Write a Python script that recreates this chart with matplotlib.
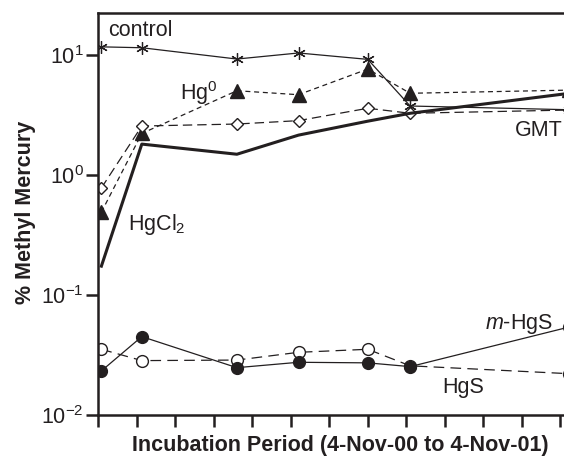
import matplotlib
matplotlib.use("Agg")
import matplotlib.pyplot as plt
import numpy as np

plt.rcParams['font.family'] = ['Liberation Sans', 'DejaVu Sans']
plt.rcParams['mathtext.fontset'] = 'custom'
plt.rcParams['mathtext.rm'] = 'Liberation Sans'
plt.rcParams['mathtext.it'] = 'Liberation Sans:italic'
plt.rcParams['mathtext.bf'] = 'Liberation Sans:bold'

# sampling times, months after 4-Nov-00
months = [0.08, 1.13, 3.6, 5.2, 7.0, 8.1, 12.22]

control = [11.7, 11.5, 9.26, 10.4, 9.2, 3.76, 3.5]
hg0 = [0.49, 2.22, 5.04, 4.67, 7.64, 4.8, 5.1]
gmt = [0.78, 2.56, 2.66, 2.84, 3.6, 3.27, 3.48]
hgcl2 = [0.174, 1.81, 1.49, 2.15, 2.81, 3.27, 4.79]
m_hgs = [0.0233, 0.045, 0.0248, 0.0275, 0.0272, 0.0253, 0.054]
hgs = [0.0353, 0.0284, 0.0287, 0.0333, 0.0353, 0.0257, 0.0221]

ink = '#231f20'

fig = plt.figure(figsize=(5.64, 4.61), dpi=100)
# axes runs past the right edge of the figure (the original is cropped)
ax = fig.add_axes([98.3 / 564, 46 / 461, 500.5 / 564, 402 / 461])
ax.set_yscale('log')
ax.set_xlim(0, 13)
ax.set_ylim(0.01, 22.4)

ax.plot(months, control, color=ink, lw=0.9, marker=(6, 2, 0), ms=9,
        mew=0.9, mec=ink)
ax.plot(months, hg0, color=ink, lw=0.9, ls=(0, (4, 3)), marker='^', ms=9.5,
        mfc=ink, mec=ink)
ax.plot(months, gmt, color=ink, lw=0.9, ls=(0, (7.5, 4)), marker='D', ms=6.5,
        mfc='white', mec=ink, mew=1.0)
ax.plot(months, hgcl2, color=ink, lw=2.2)
ax.plot(months, hgs, color=ink, lw=0.9, ls=(0, (8.5, 5)), marker='o', ms=8.5,
        mfc='white', mec=ink, mew=1.0)
ax.plot(months, m_hgs, color=ink, lw=0.9, marker='o', ms=8.5,
        mfc=ink, mec=ink)

# curve labels
lab = dict(fontsize=15.5, color=ink, va='baseline', ha='left')
ax.text(0.25, 14.4, 'control', **lab)
ax.text(2.12, 4.22, r'Hg$^0$', **lab)
ax.text(0.77, 0.348, r'HgCl$_2$', **lab)
ax.text(10.82, 2.11, 'GMT', **lab)
ax.text(10.04, 0.0521, r'$m$-HgS', **lab)
ax.text(8.93, 0.01534, 'HgS', **lab)

# axes styling
for side in ['left', 'bottom', 'top', 'right']:
    ax.spines[side].set_linewidth(1.8)
    ax.spines[side].set_color(ink)

ax.set_xticks(np.arange(0, 13))
ax.set_xticklabels([])
ax.set_yticks([0.01, 0.1, 1, 10])
ax.set_yticklabels([r'10$^{-2}$', r'10$^{-1}$', r'10$^{0}$', r'10$^{1}$'])
ax.yaxis.set_minor_locator(matplotlib.ticker.NullLocator())
ax.tick_params(axis='both', which='major', direction='out', length=8.5,
               width=1.8, color=ink, labelsize=15.5, labelcolor=ink, pad=2)

fig.text(340 / 564, 1 - 445 / 461, 'Incubation Period (4-Nov-00 to 4-Nov-01)',
         fontsize=15.5, fontweight='bold', color=ink, ha='center', va='center')
fig.text(26 / 564, 1 - 212 / 461, '% Methyl Mercury', fontsize=15.5,
         fontweight='bold', color=ink, ha='center', va='center', rotation=90)

fig.savefig('out.png', dpi=100)
